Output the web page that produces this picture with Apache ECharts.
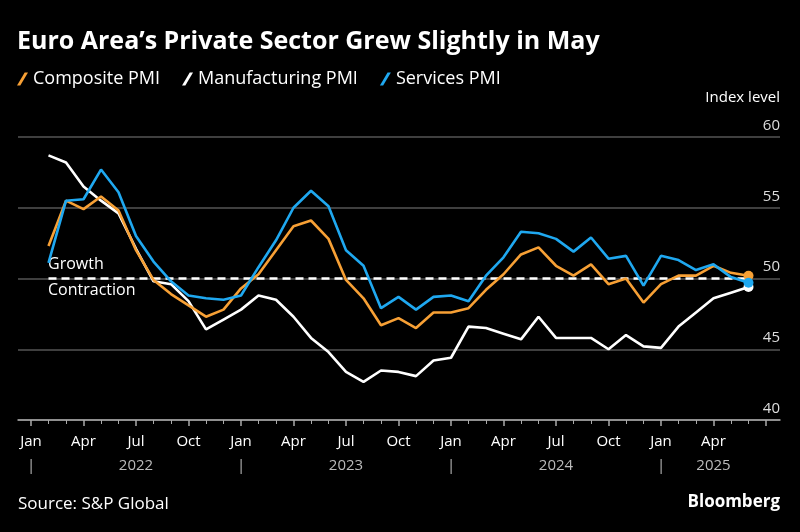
<!DOCTYPE html>
<html>
<head>
<meta charset="utf-8">
<script src="https://cdn.jsdelivr.net/npm/echarts@6/dist/echarts.min.js"></script>
<style>
  html, body { margin: 0; padding: 0; background: #000; }
  #chart { width: 800px; height: 532px; }
</style>
</head>
<body>
<div id="chart"></div>
<script>
'use strict';
// monthly readings Jan 2022 .. May 2025
var months = ['Jan', 'Feb', 'Mar', 'Apr', 'May', 'Jun', 'Jul', 'Aug', 'Sep', 'Oct', 'Nov', 'Dec'];
var years = ['2022', '2023', '2024', '2025'];
var composite = [52.3, 55.5, 54.9, 55.8, 54.8, 52.0, 49.9, 48.9, 48.1, 47.3, 47.8, 49.3,
  50.3, 52.0, 53.7, 54.1, 52.8, 49.9, 48.6, 46.7, 47.2, 46.5, 47.6, 47.6,
  47.9, 49.2, 50.3, 51.7, 52.2, 50.9, 50.2, 51.0, 49.6, 50.0, 48.3, 49.6,
  50.2, 50.2, 50.9, 50.4, 50.2];
var manufacturing = [58.7, 58.2, 56.5, 55.5, 54.6, 52.1, 49.8, 49.6, 48.4, 46.4, 47.1, 47.8,
  48.8, 48.5, 47.3, 45.8, 44.8, 43.4, 42.7, 43.5, 43.4, 43.1, 44.2, 44.4,
  46.6, 46.5, 46.1, 45.7, 47.3, 45.8, 45.8, 45.8, 45.0, 46.0, 45.2, 45.1,
  46.6, 47.6, 48.6, 49.0, 49.4];
var services = [51.1, 55.5, 55.6, 57.7, 56.1, 53.0, 51.2, 49.8, 48.8, 48.6, 48.5, 48.8,
  50.8, 52.7, 55.0, 56.2, 55.1, 52.0, 50.9, 47.9, 48.7, 47.8, 48.7, 48.8,
  48.4, 50.2, 51.5, 53.3, 53.2, 52.8, 51.9, 52.9, 51.4, 51.6, 49.5, 51.6,
  51.3, 50.6, 51.0, 50.1, 49.7];
var yTicks = [40, 45, 50, 55, 60];

var FONT = 'Open Sans';
var ORANGE = '#f7a035', WHITE = '#ffffff', BLUE = '#1fa8f0';

// month-end plotting: reading i sits at tick i+1
function toPairs(arr) {
  return arr.map(function(v, i) {
    var p = { value: [i + 1, v] };
    if (i === arr.length - 1) p.symbol = 'circle', p.symbolSize = 10;
    return p;
  });
}
function lineSeries(name, arr, color) {
  return {
    name: name, type: 'line', xAxisIndex: 1, yAxisIndex: 1,
    data: toPairs(arr), color: color,
    showSymbol: true, symbol: 'none', symbolSize: 0,
    lineStyle: { width: 2.6, color: color }, itemStyle: { color: color },
    animation: false, z: 3
  };
}
var slash = 'path://M0,12 L7,0 L10,0 L3,12 Z';

var myChart = echarts.init(document.getElementById('chart'));
myChart.setOption({
  backgroundColor: '#000',
  textStyle: { fontFamily: FONT },
  title: {
    text: 'Euro Area’s Private Sector Grew Slightly in May',
    left: 12, top: 24,
    textStyle: { color: '#fff', fontSize: 25, fontWeight: 'bold', fontFamily: FONT }
  },
  legend: {
    left: 12, top: 65, itemWidth: 11, itemHeight: 15, itemGap: 22,
    textStyle: { color: '#fff', fontSize: 18, fontFamily: FONT },
    data: [
      { name: 'Composite PMI', icon: slash, itemStyle: { color: ORANGE } },
      { name: 'Manufacturing PMI', icon: slash, itemStyle: { color: WHITE } },
      { name: 'Services PMI', icon: slash, itemStyle: { color: BLUE } }
    ]
  },
  grid: [
    { left: 18, right: 20, top: 137, bottom: 112 },
    { left: 31, right: 34, top: 137, bottom: 112 }
  ],
  xAxis: [{
    gridIndex: 0, type: 'value', min: 0, max: 1,
    axisLine: { lineStyle: { color: '#aaa', width: 1.5 } },
    axisTick: { show: false }, axisLabel: { show: false }, splitLine: { show: false }
  }, {
    gridIndex: 1, type: 'value', min: 0, max: 42, interval: 3,
    axisLine: { show: false },
    axisTick: { length: 6, lineStyle: { color: '#aaa', width: 1.5 } },
    minorTick: { show: true, splitNumber: 3, length: 4, lineStyle: { color: '#aaa' } },
    splitLine: { show: false },
    axisLabel: {
      color: '#fff', fontSize: 15, fontFamily: FONT, margin: 10, lineHeight: 24,
      formatter: function(v) {
        if (v >= 42) return '';
        var m = v % 12, y = Math.floor(v / 12);
        var s = months[m];
        if (m === 0) s += '\n{bar||}';
        else if (m === 6 && y < 3) s += '\n{yr|' + years[y] + '}';
        else if (m === 3 && y === 3) s += '\n{yr|' + years[y] + '}';
        return s;
      },
      rich: {
        yr: { color: '#bbb', fontSize: 15, fontFamily: FONT },
        bar: { color: '#bbb', fontSize: 15, fontFamily: FONT }
      }
    }
  }],
  yAxis: [{
    gridIndex: 0, type: 'value', min: 40, max: 60, interval: 5, position: 'right',
    axisLine: { show: false }, axisTick: { show: false },
    splitLine: { lineStyle: { color: '#555', width: 1.5 } },
    axisLabel: {
      inside: true, margin: 0, verticalAlign: 'bottom', color: '#ddd', fontSize: 15,
      fontFamily: FONT, padding: [0, 0, 4, 0],
      formatter: function(v) { return yTicks.indexOf(v) >= 0 ? String(v) : ''; }
    }
  }, {
    gridIndex: 1, type: 'value', min: 40, max: 60, interval: 5, show: false
  }],
  graphic: [
    { type: 'text', right: 20, top: 90, style: { text: 'Index level', fill: '#fff', font: '15px "Open Sans"' } },
    { type: 'text', left: 48, top: 256, style: { text: 'Growth', fill: '#fff', font: '16px "Open Sans"' } },
    { type: 'text', left: 48, top: 282, style: { text: 'Contraction', fill: '#fff', font: '16px "Open Sans"' } },
    { type: 'text', left: 18, top: 496, style: { text: 'Source: S&P Global', fill: '#fff', font: '17px "Open Sans"' } },
    { type: 'text', right: 20, top: 494, style: { text: 'Bloomberg', fill: '#fff', font: 'bold 17px "Open Sans"' } }
  ],
  series: [{
    name: 'threshold', type: 'line', xAxisIndex: 1, yAxisIndex: 1,
    data: [[1, 50], [composite.length, 50]], symbol: 'none', silent: true,
    lineStyle: { color: '#fff', width: 2.5, type: [8, 5] }, animation: false, z: 2
  },
    lineSeries('Manufacturing PMI', manufacturing, WHITE),
    lineSeries('Composite PMI', composite, ORANGE),
    lineSeries('Services PMI', services, BLUE)
  ]
});
</script>
</body>
</html>
